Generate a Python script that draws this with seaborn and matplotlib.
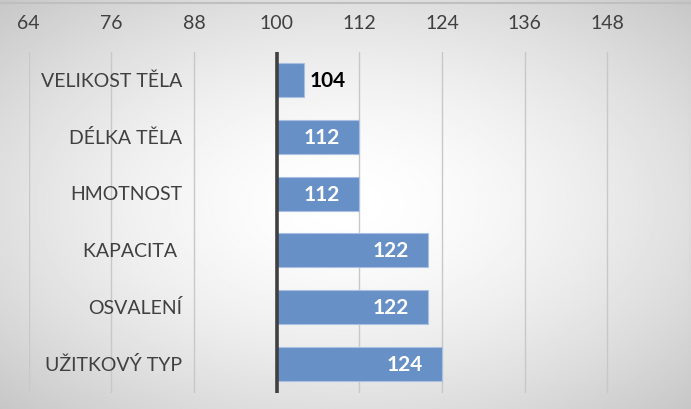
import numpy as np
import matplotlib
matplotlib.use("Agg")
import matplotlib.pyplot as plt
from matplotlib.ticker import FuncFormatter, MultipleLocator
import matplotlib.transforms as mtransforms
import seaborn as sns
import pandas as pd

# data
categories = ["VELIKOST TĚLA", "DÉLKA TĚLA", "HMOTNOST", "KAPACITA ", "OSVALENÍ", "UŽITKOVÝ TYP"]
values = [104, 112, 112, 122, 122, 124]
BASE = 100
XMIN, XMAX = 64, 160

BAR_COLOR = "#6790C7"
GRID_COLOR = "#c8c8c8"
AXIS_COLOR = "#404040"
TEXT_COLOR = "#404040"

sns.set_theme(style="white")
plt.rcParams["font.family"] = ["Lato", "DejaVu Sans"]

df = pd.DataFrame({"cat": categories, "delta": [v - BASE for v in values]})

fig = plt.figure(figsize=(6.91, 4.10), dpi=100)

# radial gradient background
bg = fig.add_axes([0, 0, 1, 1], zorder=-1)
yy, xx = np.mgrid[-1:1:300j, -1:1:500j]
r = np.sqrt(xx ** 2 + yy ** 2) / np.sqrt(2)
bg.imshow(1 - 0.22 * r ** 1.6, cmap="gray", vmin=0, vmax=1, aspect="auto", extent=[0, 1, 0, 1])
bg.axis("off")
fig.add_artist(plt.Line2D([0, 1], [1 - 4 / 410, 1 - 4 / 410], color="#bfbfbf", lw=1.5))

ax = fig.add_axes([28.7 / 691, 1 - 393.5 / 410, 661.3 / 691, 341 / 410])
ax.set_facecolor("none")

sns.barplot(data=df, x="delta", y="cat", orient="h", color=BAR_COLOR, saturation=1,
            width=0.6, edgecolor="#a9c0e0", linewidth=0.8, ax=ax, zorder=2)

ax.set_xlim(XMIN - BASE, XMAX - BASE)
ax.xaxis.set_major_locator(MultipleLocator(12))
ax.xaxis.set_major_formatter(FuncFormatter(lambda v, p: f"{int(round(v + BASE))}" if v + BASE < XMAX else ""))
ax.xaxis.tick_top()
ax.tick_params(axis="x", length=0, pad=15, labelsize=14, labelcolor=TEXT_COLOR)
ax.set_yticks([])
ax.set_xlabel("")
ax.set_ylabel("")
for s in ax.spines.values():
    s.set_visible(False)

for xv in range(XMIN, XMAX + 1, 12):
    if xv == BASE:
        continue
    ax.axvline(xv - BASE, color=GRID_COLOR, lw=1, zorder=0)
ax.axvline(0, color=AXIS_COLOR, lw=2.6, zorder=3)

# category labels
trans = mtransforms.blended_transform_factory(ax.transAxes, ax.transData)
for i, c in enumerate(categories):
    ax.text((182 - 28.7) / 661.3, i, c, transform=trans, ha="right", va="center",
            fontsize=14, color=TEXT_COLOR)

# value labels
for i, v in enumerate(values):
    d = v - BASE
    if d < 8:
        ax.text(d + 0.8, i, str(v), ha="left", va="center", fontsize=15,
                fontweight="bold", color="black", zorder=4)
    else:
        ax.text(d - 2.75, i, str(v), ha="right", va="center", fontsize=15,
                fontweight="bold", color="white", zorder=4)

fig.savefig("out.png", dpi=100)
